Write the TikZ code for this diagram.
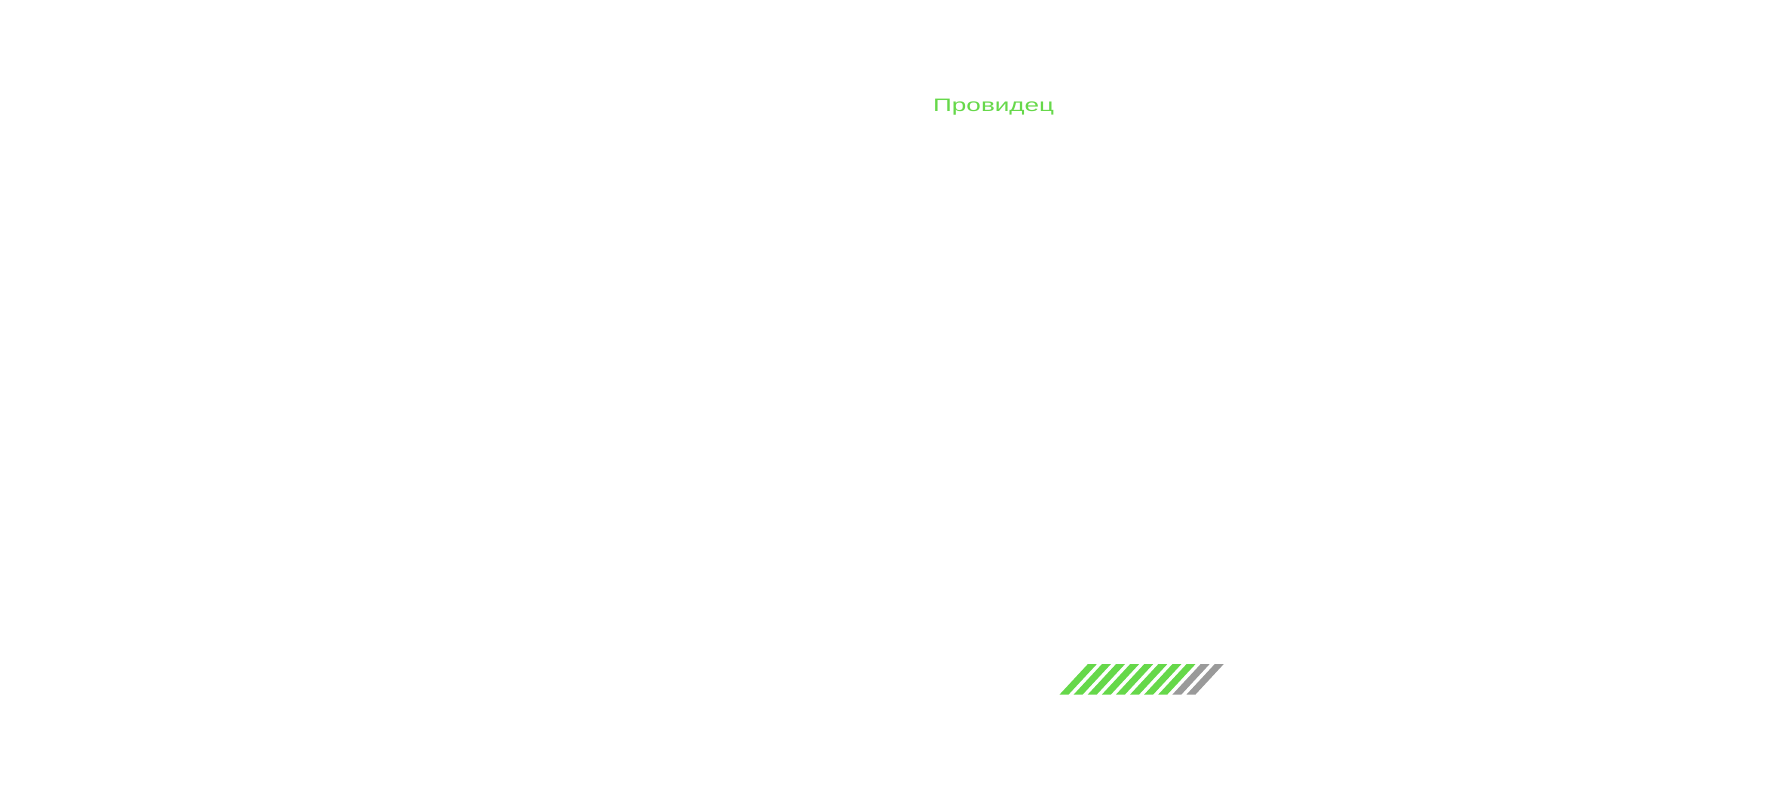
\documentclass[tikz,border=0pt]{standalone}
\usepackage{fontspec}
\newfontfamily\titlefont[FakeStretch=1.45]{Liberation Sans}
\definecolor{stripegreen}{HTML}{66D84A}
\definecolor{stripegray}{HTML}{9A9A9A}
\begin{document}
\begin{tikzpicture}[x=1pt,y=-1pt,
  stripe/.style={fill=#1,draw=none}]
\useasboundingbox (0,0) rectangle (1771,792);
\node[anchor=base west,inner sep=0pt,text=stripegreen,font=\titlefont\fontsize{18}{20}\selectfont] (title) at (933,111.5) {Провидец};
\foreach \i in {0,...,9}{
  \pgfmathsetmacro{\xx}{1059.5+14.1*\i}
  \ifnum\i<8
    \fill[stripegreen] (\xx,694.6) -- (\xx+28.2,664.2) -- (\xx+37.2,664.2) -- (\xx+9,694.6) -- cycle;
  \else
    \fill[stripegray] (\xx,694.6) -- (\xx+28.2,664.2) -- (\xx+37.2,664.2) -- (\xx+9,694.6) -- cycle;
  \fi
}
\end{tikzpicture}
\end{document}
